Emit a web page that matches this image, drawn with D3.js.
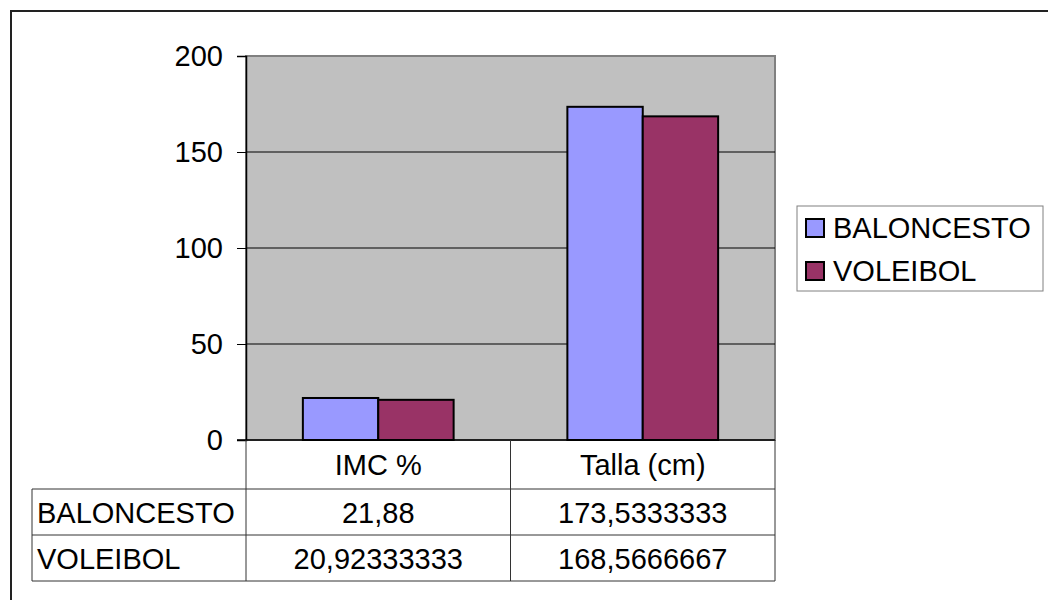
<!DOCTYPE html>
<html>
<head>
<meta charset="utf-8">
<script src="https://cdn.jsdelivr.net/npm/d3@7"></script>
<style>
  body { margin: 0; background: #fff; }
  svg { display: block; font-family: Arial, "Liberation Sans", sans-serif; }
</style>
</head>
<body>
<svg id="chart" width="1048" height="600"></svg>
<script>
const width = 1048;
const height = 600;

// data
const categories = ["IMC %", "Talla (cm)"];
const seriesNames = ["BALONCESTO", "VOLEIBOL"];
const baloncesto = [21.88, 173.5333333];
const voleibol = [20.92333333, 168.5666667];
const tableText = [["21,88", "173,5333333"], ["20,92333333", "168,5666667"]];
const yTicks = [0, 50, 100, 150, 200];
const colors = ["#9999FF", "#993366"];

const svg = d3.select("#chart");
const fontSize = 29;

// outer chart border (runs off right/bottom edge)
svg.append("rect")
    .attr("x", 11).attr("y", 11)
    .attr("width", 1100).attr("height", 700)
    .attr("fill", "#fff")
    .attr("stroke", "#222")
    .attr("stroke-width", 2);

const plot = { left: 246, right: 775, top: 56, bottom: 440 };

const y = d3.scaleLinear()
    .domain([0, 200])
    .range([plot.bottom, plot.top]);

const x0 = d3.scaleBand()
    .domain(categories)
    .range([plot.left, plot.right])
    .paddingInner(0.43)
    .paddingOuter(0.215);

const x1 = d3.scaleBand()
    .domain(seriesNames)
    .range([0, x0.bandwidth()]);

// plot area
svg.append("rect")
    .attr("x", plot.left).attr("y", plot.top)
    .attr("width", plot.right - plot.left)
    .attr("height", plot.bottom - plot.top)
    .attr("fill", "#C0C0C0")
    .attr("stroke", "#808080")
    .attr("stroke-width", 2);

// gridlines
svg.append("g")
    .selectAll("line")
    .data(yTicks.filter(d => d > 0 && d < 200))
    .enter()
    .append("line")
    .attr("x1", plot.left).attr("x2", plot.right)
    .attr("y1", d => y(d)).attr("y2", d => y(d))
    .attr("stroke", "#000")
    .attr("stroke-width", 1);

// y axis
const yAxis = svg.append("g")
    .attr("transform", `translate(${plot.left},0)`)
    .call(d3.axisLeft(y).tickValues(yTicks).tickSize(9).tickPadding(14));
yAxis.select(".domain").attr("stroke", "#000").attr("stroke-width", 1.5);
yAxis.selectAll(".tick line").attr("stroke", "#000");
yAxis.selectAll("text")
    .attr("font-size", fontSize)
    .attr("font-family", "Arial, 'Liberation Sans', sans-serif")
    .attr("fill", "#000");

// bars
const rows = seriesNames.map((name, i) => ({
    name: name,
    values: i === 0 ? baloncesto : voleibol,
    color: colors[i]
}));

rows.forEach(s => {
    svg.append("g")
        .selectAll("rect")
        .data(categories.map((c, j) => ({ cat: c, value: s.values[j] })))
        .enter()
        .append("rect")
        .attr("x", d => x0(d.cat) + x1(s.name))
        .attr("y", d => y(d.value))
        .attr("width", x1.bandwidth())
        .attr("height", d => y(0) - y(d.value))
        .attr("fill", s.color)
        .attr("stroke", "#000")
        .attr("stroke-width", 2);
});

// zero axis line
svg.append("line")
    .attr("x1", plot.left - 9).attr("x2", plot.right)
    .attr("y1", y(0)).attr("y2", y(0))
    .attr("stroke", "#000").attr("stroke-width", 1.5);

// data table
const tableLeft = 32;
const rowY = [plot.bottom, 489, 535, 581];
const colX = [tableLeft, plot.left, x0(categories[1]) - x0.step() * x0.paddingInner() / 2, plot.right];
const lineColor = "#333";
const table = svg.append("g");

// horizontal lines
[rowY[1], rowY[2], rowY[3]].forEach(yv => {
    table.append("line")
        .attr("x1", colX[0]).attr("x2", colX[3])
        .attr("y1", yv).attr("y2", yv)
        .attr("stroke", lineColor);
});
// vertical lines
table.append("line")
    .attr("x1", colX[0]).attr("x2", colX[0])
    .attr("y1", rowY[1]).attr("y2", rowY[3])
    .attr("stroke", lineColor);
[colX[1], colX[2], colX[3]].forEach(xv => {
    table.append("line")
        .attr("x1", xv).attr("x2", xv)
        .attr("y1", rowY[0]).attr("y2", rowY[3])
        .attr("stroke", lineColor);
});

// header texts
table.selectAll("text.head")
    .data(categories)
    .enter()
    .append("text")
    .attr("class", "head")
    .attr("x", d => x0(d) + x0.bandwidth() / 2)
    .attr("y", (rowY[0] + rowY[1]) / 2 + 10)
    .attr("text-anchor", "middle")
    .attr("font-size", fontSize)
    .attr("fill", "#000")
    .text(d => d);

// row labels and values
seriesNames.forEach((name, i) => {
    const cy = (rowY[i + 1] + rowY[i + 2]) / 2 + 11;
    table.append("text")
        .attr("x", tableLeft + 5)
        .attr("y", cy)
        .attr("font-size", fontSize)
        .attr("fill", "#000")
        .text(name);
    categories.forEach((c, j) => {
        table.append("text")
            .attr("x", x0(c) + x0.bandwidth() / 2)
            .attr("y", cy)
            .attr("text-anchor", "middle")
            .attr("font-size", fontSize)
            .attr("fill", "#000")
            .text(tableText[i][j]);
    });
});

// legend
const legend = svg.append("g");
legend.append("rect")
    .attr("x", 797).attr("y", 206)
    .attr("width", 246).attr("height", 85)
    .attr("fill", "#fff")
    .attr("stroke", "#808080");

rows.forEach((s, i) => {
    const ly = 228 + i * 43;
    legend.append("rect")
        .attr("x", 806).attr("y", ly - 9)
        .attr("width", 18).attr("height", 18)
        .attr("fill", s.color)
        .attr("stroke", "#000")
        .attr("stroke-width", 2);
    legend.append("text")
        .attr("x", 833).attr("y", ly + 10)
        .attr("font-size", fontSize)
        .attr("fill", "#000")
        .text(s.name);
});
</script>
</body>
</html>
